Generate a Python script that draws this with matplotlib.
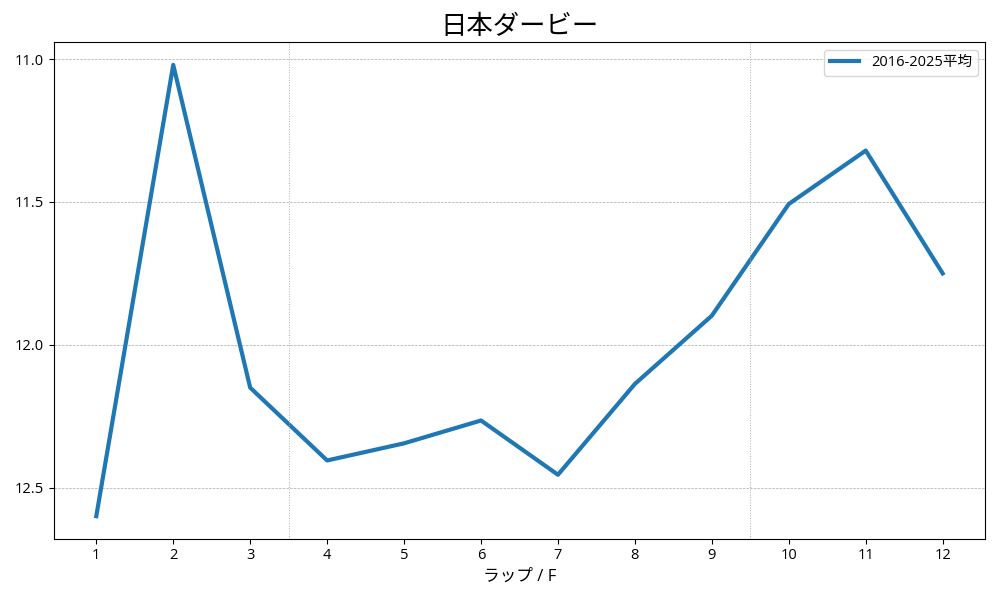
import matplotlib
matplotlib.use("Agg")
import matplotlib.pyplot as plt

plt.rcParams['font.family'] = ['Open Sans', 'Noto Sans CJK JP', 'DejaVu Sans']

laps = [1, 2, 3, 4, 5, 6, 7, 8, 9, 10, 11, 12]
avg_times = [12.60, 11.02, 12.15, 12.405, 12.345, 12.265, 12.455, 12.137, 11.898, 11.507, 11.32, 11.75]
series_label = "2016-2025平均"
section_marks = [3.5, 9.5]

fig, ax = plt.subplots(figsize=(10, 6), dpi=100)
ax.plot(laps, avg_times, color='#1f77b4', linewidth=3, label=series_label)
ax.invert_yaxis()
ax.set_xticks(laps)
ax.set_yticks([11.0, 11.5, 12.0, 12.5])
ax.tick_params(labelsize=10.5)
ax.grid(axis='y', linestyle='--', linewidth=0.5, color='#aaaaaa')
for xm in section_marks:
    ax.axvline(xm, color='#aaaaaa', linestyle=':', linewidth=0.7)
ax.set_title("日本ダービー", fontsize=19)
ax.set_xlabel("ラップ / F", fontsize=12)
ax.legend(loc='upper right', fontsize=10.5)
fig.tight_layout()
fig.savefig("out.png")
